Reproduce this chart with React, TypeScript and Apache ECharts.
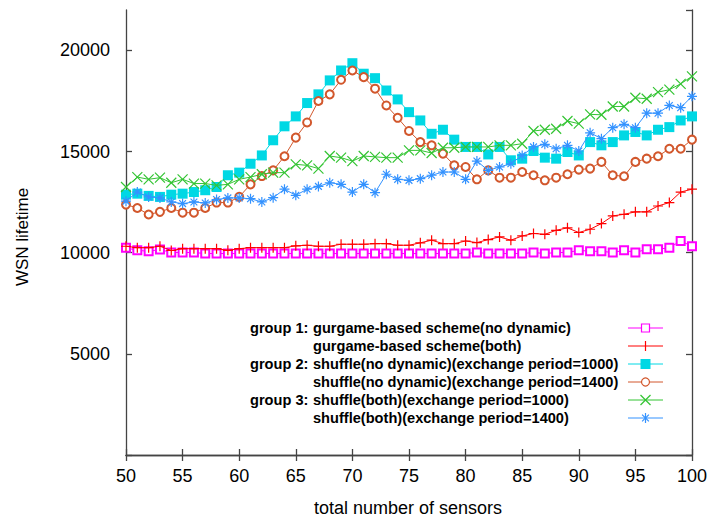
import React, { useEffect, useRef } from 'react';
import * as echarts from 'echarts';

const sensors = [50, 51, 52, 53, 54, 55, 56, 57, 58, 59, 60, 61, 62, 63, 64, 65, 66, 67, 68, 69, 70, 71, 72, 73, 74, 75, 76, 77, 78, 79, 80, 81, 82, 83, 84, 85, 86, 87, 88, 89, 90, 91, 92, 93, 94, 95, 96, 97, 98, 99, 100];

const gurgameNoDynamic = [10240, 10120, 10070, 10160, 10010, 10010, 10010, 9960, 9960, 9960, 9960, 9960, 9960, 9960, 9960, 9960, 9960, 9960, 9960, 9960, 9960, 9960, 9960, 9960, 9960, 9960, 9960, 9960, 9960, 9960, 9960, 10010, 9960, 9960, 9960, 9960, 10010, 9960, 10010, 10010, 10120, 10070, 10070, 10010, 10120, 10010, 10170, 10170, 10250, 10580, 10320];

const gurgameBoth = [10320, 10250, 10250, 10320, 10110, 10200, 10200, 10200, 10200, 10120, 10200, 10250, 10250, 10250, 10250, 10340, 10370, 10320, 10320, 10420, 10420, 10420, 10450, 10450, 10370, 10370, 10490, 10620, 10450, 10450, 10580, 10500, 10650, 10780, 10620, 10830, 10950, 10910, 11110, 11230, 11000, 11160, 11440, 11820, 11900, 12020, 12020, 12310, 12480, 13000, 13140];

const shuffleNoDyn1000 = [12870, 12920, 12810, 12760, 12870, 12920, 13000, 13090, 13250, 13830, 13960, 14400, 14810, 15560, 16250, 16740, 17400, 17830, 18520, 19010, 19370, 18850, 18630, 18020, 17580, 16950, 16540, 15880, 16080, 15590, 15230, 15230, 14860, 15230, 14570, 14650, 15030, 14700, 14650, 14980, 14810, 15470, 15310, 15470, 15800, 15970, 15800, 16080, 16210, 16540, 16740];

const shuffleNoDyn1400 = [12380, 12210, 11890, 12020, 12210, 11980, 11980, 12210, 12480, 12480, 12760, 13380, 13790, 14070, 14770, 15690, 16440, 17500, 17830, 18550, 19010, 18680, 18110, 17280, 16670, 16020, 15470, 15310, 14900, 14320, 14240, 13630, 14070, 13710, 13710, 13990, 13830, 13580, 13710, 13880, 14110, 14160, 14490, 13830, 13780, 14490, 14650, 14770, 15140, 15140, 15590];

const shuffleBoth1000 = [13250, 13740, 13630, 13710, 13460, 13630, 13420, 13420, 13330, 13380, 13630, 13740, 13880, 13960, 13960, 14370, 14320, 14160, 14780, 14700, 14530, 14780, 14740, 14700, 14700, 15060, 15060, 14930, 15190, 15190, 15230, 15230, 15230, 15310, 15310, 15390, 16020, 16080, 16130, 16510, 16380, 16840, 16820, 17230, 17230, 17660, 17610, 17940, 18060, 18350, 18720];

const shuffleBoth1400 = [12550, 13000, 12760, 12710, 12510, 12430, 12510, 12460, 12630, 12710, 12710, 12670, 12510, 12720, 13140, 12840, 13140, 13280, 13460, 13380, 13000, 13380, 12970, 13880, 13630, 13580, 13660, 13830, 13990, 13990, 13630, 14530, 14070, 14240, 14400, 14810, 15230, 15360, 15140, 15310, 15030, 15930, 15640, 16180, 16350, 16180, 16900, 16900, 17280, 17170, 17730];

const groupLabels = ['group 1:', '', 'group 2:', '', 'group 3:', ''];
const seriesNames = [
  'gurgame-based scheme(no dynamic)',
  'gurgame-based scheme(both)',
  'shuffle(no dynamic)(exchange period=1000)',
  'shuffle(no dynamic)(exchange period=1400)',
  'shuffle(both)(exchange period=1000)',
  'shuffle(both)(exchange period=1400)',
];
const yTicks = [5000, 10000, 15000, 20000];

const COLORS = ['#FF00FF', '#FF0000', '#00D8E4', '#D2572C', '#33C433', '#3392FF'];
const PLUS = 'path://M5,0L5,10M0,5L10,5';
const CROSS = 'path://M0,0L10,10M10,0L0,10';
const STAR = 'path://M5,0L5,10M0,5L10,5M1.6,1.6L8.4,8.4M8.4,1.6L1.6,8.4';
const SYMBOLS = ['emptyRect', PLUS, 'rect', 'emptyCircle', CROSS, STAR];
const SIZES = [8, 10, 10, 8, 10, 10];

const FONT = '"Liberation Sans", Arial, sans-serif';
const FRAME = '#444444';

function legendMarker(kind: number, cx: number, cy: number, color: string) {
  const s = { stroke: color, lineWidth: 1.2, fill: 'none' };
  switch (kind) {
    case 0:
      return { type: 'rect', shape: { x: cx - 4, y: cy - 4, width: 8, height: 8 }, style: { stroke: color, fill: '#fff', lineWidth: 1.2 } };
    case 1:
      return { type: 'group', children: [
        { type: 'line', shape: { x1: cx, y1: cy - 5, x2: cx, y2: cy + 5 }, style: s },
      ] };
    case 2:
      return { type: 'rect', shape: { x: cx - 5, y: cy - 5, width: 10, height: 10 }, style: { fill: color } };
    case 3:
      return { type: 'circle', shape: { cx, cy, r: 4 }, style: { stroke: color, fill: '#fff', lineWidth: 1.2 } };
    case 4:
      return { type: 'group', children: [
        { type: 'line', shape: { x1: cx - 5, y1: cy - 5, x2: cx + 5, y2: cy + 5 }, style: s },
        { type: 'line', shape: { x1: cx + 5, y1: cy - 5, x2: cx - 5, y2: cy + 5 }, style: s },
      ] };
    default:
      return { type: 'group', children: [
        { type: 'line', shape: { x1: cx, y1: cy - 5, x2: cx, y2: cy + 5 }, style: s },
        { type: 'line', shape: { x1: cx - 3.4, y1: cy - 3.4, x2: cx + 3.4, y2: cy + 3.4 }, style: s },
        { type: 'line', shape: { x1: cx + 3.4, y1: cy - 3.4, x2: cx - 3.4, y2: cy + 3.4 }, style: s },
      ] };
  }
}

export default function App() {
  const ref = useRef<HTMLDivElement>(null);
  useEffect(() => {
    if (!ref.current) return;
    const chart = echarts.init(ref.current, null, { renderer: 'svg' });
    const allData = [gurgameNoDynamic, gurgameBoth, shuffleNoDyn1000, shuffleNoDyn1400, shuffleBoth1000, shuffleBoth1400];

    const legendGraphics: any[] = [];
    const rowY0 = 328;
    const rowStep = 18;
    seriesNames.forEach((name, i) => {
      const y = rowY0 + i * rowStep;
      if (groupLabels[i]) {
        legendGraphics.push({
          type: 'text', x: 250, y,
          style: { text: groupLabels[i], font: `bold 14.6px ${FONT}`, fill: '#000', verticalAlign: 'middle', align: 'left' },
        });
      }
      legendGraphics.push({
        type: 'text', x: 313, y,
        style: { text: name, font: `bold 14.6px ${FONT}`, fill: '#000', verticalAlign: 'middle', align: 'left' },
      });
      legendGraphics.push({
        type: 'line', shape: { x1: 628, y1: y, x2: 663, y2: y },
        style: { stroke: COLORS[i], lineWidth: 1 },
      });
      legendGraphics.push(legendMarker(i, 645.5, y, COLORS[i]));
    });

    const option: any = {
      animation: false,
      backgroundColor: '#ffffff',
      grid: { left: 126, right: 16, top: 10, bottom: 66, containLabel: false },
      xAxis: [
        {
          type: 'value', min: 50, max: 100, interval: 5, position: 'bottom',
          axisLine: { show: true, lineStyle: { color: FRAME, width: 1.3 } },
          axisTick: { show: true, inside: true, length: 6, lineStyle: { color: FRAME, width: 1.3 } },
          axisLabel: { show: true, margin: 12, color: '#000', fontSize: 18, fontFamily: FONT },
          splitLine: { show: false },
        },
        {
          type: 'value', min: 50, max: 100, interval: 5, position: 'top',
          axisLine: { show: true, lineStyle: { color: FRAME, width: 1.3 } },
          axisTick: { show: true, inside: true, length: 6, lineStyle: { color: FRAME, width: 1.3 } },
          axisLabel: { show: false },
          splitLine: { show: false },
        },
      ],
      yAxis: [
        {
          type: 'value', min: 0, max: 22000, interval: 5000, position: 'left',
          axisLine: { show: true, lineStyle: { color: FRAME, width: 1.3 } },
          axisTick: { show: true, inside: true, length: 6, lineStyle: { color: FRAME, width: 1.3 } },
          axisLabel: {
            show: true, margin: 16, color: '#000', fontSize: 18, fontFamily: FONT, showMaxLabel: false,
            formatter: (v: number) => (yTicks.indexOf(v) >= 0 ? String(v) : ''),
          },
          splitLine: { show: false },
        },
        {
          type: 'value', min: 0, max: 22000, interval: 5000, position: 'right',
          axisLine: { show: true, lineStyle: { color: FRAME, width: 1.3 } },
          axisTick: { show: true, inside: true, length: 6, lineStyle: { color: FRAME, width: 1.3 } },
          axisLabel: { show: false },
          splitLine: { show: false },
        },
      ],
      series: allData.map((vals, i) => ({
        type: 'line',
        name: seriesNames[i],
        xAxisIndex: 0,
        yAxisIndex: 0,
        data: sensors.map((x, j) => [x, vals[j]]),
        symbol: SYMBOLS[i],
        symbolSize: SIZES[i],
        showSymbol: true,
        lineStyle: { color: COLORS[i], width: 1 },
        itemStyle: { color: COLORS[i], borderColor: COLORS[i], borderWidth: i === 2 ? 0 : 1.2 },
        z: 2 + i,
      })),
      graphic: [
        {
          type: 'text', x: 22, y: 237, rotation: Math.PI / 2,
          style: { text: 'WSN lifetime', font: `17px ${FONT}`, fill: '#000', align: 'center', verticalAlign: 'middle' },
        },
        {
          type: 'text', x: 408, y: 508,
          style: { text: 'total number of sensors', font: `18px ${FONT}`, fill: '#000', align: 'center', verticalAlign: 'middle' },
        },
        ...legendGraphics,
      ],
    };
    chart.setOption(option);
    return () => chart.dispose();
  }, []);
  return <div ref={ref} style={{ width: 710, height: 521, position: 'absolute', left: 0, top: 0 }} />;
}
